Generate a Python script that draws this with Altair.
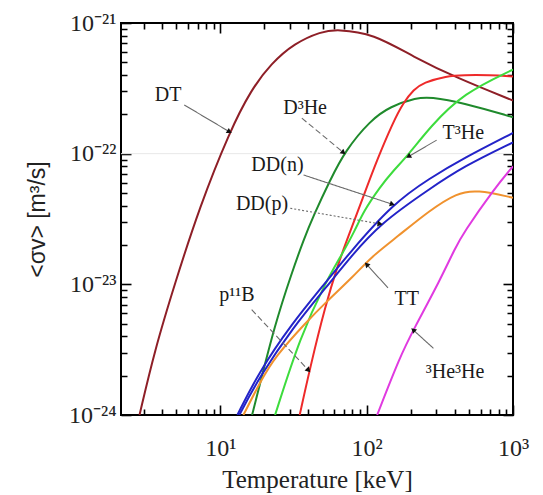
import math
import altair as alt
import pandas as pd

# ---------------- data ----------------
dt_T = [2.81, 3.56, 4.88, 7.22, 11.6, 16.3, 22.3, 32.1, 48.9, 63, 111, 209, 413, 1000]
dt_sv = [1.0e-24, 3.1e-24, 1.0e-23, 3.9e-23, 1.48e-22, 3.1e-22, 4.9e-22, 7.0e-22, 8.6e-22, 8.95e-22, 8.3e-22, 5.5e-22, 3.8e-22, 2.55e-22]

d3he_T = [16.5, 17.8, 23.7, 30.8, 37.1, 43.4, 56.4, 71.3, 106, 145, 220, 271, 457, 1000]
d3he_sv = [1.0e-24, 1.39e-24, 5.0e-24, 1.22e-23, 2.19e-23, 3.36e-23, 6.3e-23, 1.05e-22, 1.8e-22, 2.3e-22, 2.68e-22, 2.72e-22, 2.45e-22, 1.9e-22]

p11b_T = [34.9, 41.1, 52.1, 64.2, 71.3, 95, 117.5, 152, 178, 210, 244, 352, 457, 700, 1000]
p11b_sv = [1.0e-24, 2.3e-24, 6.8e-24, 1.45e-23, 2.0e-23, 4.7e-23, 8.9e-23, 1.75e-22, 2.45e-22, 3.1e-22, 3.5e-22, 3.93e-22, 4.0e-22, 4.0e-22, 3.9e-22]

t3he_T = [23.7, 35.2, 53.5, 65.9, 83.6, 95, 124, 152, 193, 271, 457, 1000]
t3he_sv = [1.0e-24, 4.0e-24, 1.08e-23, 1.6e-23, 2.6e-23, 3.6e-23, 5.6e-23, 7.4e-23, 9.8e-23, 1.6e-22, 2.9e-22, 4.4e-22]

ddn_T = [13.1, 18.2, 30.8, 52.1, 75, 152, 271, 458, 1000]
ddn_sv = [1.0e-24, 2.09e-24, 5.0e-24, 1.02e-23, 1.7e-23, 4.17e-23, 6.5e-23, 9.2e-23, 1.44e-22]

ddp_T = [13.5, 18.5, 31.5, 53, 77, 124, 271, 458, 1000]
ddp_sv = [1.0e-24, 1.95e-24, 4.7e-24, 9.5e-24, 1.6e-23, 2.93e-23, 5.4e-23, 7.96e-23, 1.22e-22]

tt_T = [14.4, 18.8, 23.7, 39.1, 52.1, 81.3, 108, 161, 271, 413, 565, 1000]
tt_sv = [1.0e-24, 1.8e-24, 2.8e-24, 5.2e-24, 7.2e-24, 1.15e-23, 1.63e-23, 2.3e-23, 3.7e-23, 5.0e-23, 5.3e-23, 4.6e-23]

he3he3_T = [118, 169, 209, 318, 402, 457, 735, 1000]
he3he3_sv = [1.0e-24, 2.8e-24, 4.5e-24, 1.08e-23, 1.89e-23, 2.46e-23, 5.3e-23, 8.0e-23]

curve_names = ["DT", "D3He", "p11B", "T3He", "DD(n)", "DD(p)", "TT", "3He3He"]
curve_T = [dt_T, d3he_T, p11b_T, t3he_T, ddn_T, ddp_T, tt_T, he3he3_T]
curve_sv = [dt_sv, d3he_sv, p11b_sv, t3he_sv, ddn_sv, ddp_sv, tt_sv, he3he3_sv]
curve_colors = ["#8e1f27", "#1f8a2c", "#ee2a2a", "#3ddc3d", "#2323c8", "#2323c8", "#f0922e", "#e03ae0"]

# annotation labels
label_text = ["DT", "D³He", "T³He", "DD(n)", "DD(p)", "p¹¹B", "TT", "³He³He"]
label_T = [4.4, 38, 458, 24.6, 19.3, 13.0, 188, 402]
label_sv = [2.81e-22, 2.22e-22, 1.43e-22, 8.2e-23, 4.1e-23, 8.3e-24, 7.7e-24, 2.15e-24]

# annotation arrows (start -> end)
arrow_T1 = [5.68, 36.1, 301, 37.1, 30.1, 16.4, 140, 286]
arrow_sv1 = [2.36e-22, 1.87e-22, 1.27e-22, 6.87e-23, 3.82e-23, 6.4e-24, 9.4e-24, 3.24e-24]
arrow_T2 = [11.57, 69.5, 193, 150, 123.6, 40.1, 100, 208]
arrow_sv2 = [1.47e-22, 1.02e-22, 9.5e-23, 4.1e-23, 2.9e-23, 2.2e-24, 1.42e-23, 4.48e-24]
arrow_style = ["solid", "dashed", "solid", "solid", "dotted", "dashed", "solid", "solid"]

# axes
x_domain = [2.1, 1000]
y_domain = [1e-24, 1e-21]
x_tick_values = [10, 100, 1000]
x_tick_labels = ["10¹", "10²", "10³"]
y_tick_values = [1e-24, 1e-23, 1e-22, 1e-21]
y_tick_exps = [-24, -23, -22, -21]
y_tick_labels = ["10⁻²⁴", "10⁻²³", "10⁻²²", "10⁻²¹"]
x_minor = [3, 4, 5, 6, 7, 8, 9, 20, 30, 40, 50, 60, 70, 80, 90, 200, 300, 400, 500, 600, 700, 800, 900]
y_minor = [m * 10.0 ** e for e in (-24, -23, -22) for m in range(2, 10)]

W, H = 392, 392
SERIF = "Liberation Serif"
TL = 10          # tick length (major); axis line is moved inside the frame by this much
MINOR_GAP = 4    # minor ticks: first part of the tick left blank so they are shorter

# ---------------- build tables ----------------
rows = []
for name, Ts, svs in zip(curve_names, curve_T, curve_sv):
    for i, (t, s) in enumerate(zip(Ts, svs)):
        rows.append({"curve": name, "T": t, "sv": s, "i": i})
curves_df = pd.DataFrame(rows)

labels_df = pd.DataFrame({"text": label_text, "T": label_T, "sv": label_sv})

kx = W / (math.log10(x_domain[1]) - math.log10(x_domain[0]))
ky = H / (math.log10(y_domain[1]) - math.log10(y_domain[0]))
angs = []
for t1, s1, t2, s2 in zip(arrow_T1, arrow_sv1, arrow_T2, arrow_sv2):
    dx = (math.log10(t2) - math.log10(t1)) * kx
    dy = -(math.log10(s2) - math.log10(s1)) * ky
    angs.append(math.degrees(math.atan2(dy, dx)) % 360)
arrows_df = pd.DataFrame({"T1": arrow_T1, "sv1": arrow_sv1, "T2": arrow_T2,
                          "sv2": arrow_sv2, "style": arrow_style, "ang": angs})

xs = alt.Scale(type="log", domain=x_domain, nice=False)
ys = alt.Scale(type="log", domain=y_domain, nice=False)
dash_scale = alt.Scale(domain=["solid", "dashed", "dotted"], range=[[1, 0], [6, 3], [2, 2]])

x_all = sorted(x_tick_values + x_minor)
y_all = sorted(y_tick_values + y_minor)

x_expr = " : ".join(f"datum.value == {v} ? '{l}'" for v, l in zip(x_tick_values, x_tick_labels)) + " : ''"
y_is_minor = "abs(log(datum.value)/LN10 - round(log(datum.value)/LN10)) > 0.001"
y_expr = (f"{y_is_minor} ? '' : (" +
          " : ".join(f"round(log(datum.value)/LN10) == {e} ? '{l}'" for e, l in zip(y_tick_exps, y_tick_labels))
          + " : '')")
x_is_minor = "indexof([" + ",".join(str(v) for v in x_tick_values) + "], datum.value) < 0"


def make_axes(conditional):
    if conditional:
        xdash = {"condition": {"test": x_is_minor, "value": [0, MINOR_GAP, TL]}, "value": [TL, 0]}
        ydash = {"condition": {"test": y_is_minor, "value": [0, MINOR_GAP, TL]}, "value": [TL, 0]}
        tick_kw_x = dict(tickDash=xdash)
        tick_kw_y = dict(tickDash=ydash)
    else:
        tick_kw_x, tick_kw_y = {}, {}
    common = dict(ticks=True, tickSize=TL, tickWidth=1.6, tickColor="#000", offset=-TL,
                  domain=False, grid=False, labelFlush=False, labelOverlap=False, labelBound=False)
    bottom = alt.Axis(orient="bottom", values=x_all, labelExpr=x_expr, title="Temperature [keV]",
                      labelFont=SERIF, labelFontSize=24, labelColor="#222", labelBaseline="alphabetic",
                      labelPadding=40,
                      titleFont=SERIF, titleFontSize=25, titleFontWeight="normal", titleColor="#222",
                      titleY=64 + TL, titleBaseline="middle", **common, **tick_kw_x)
    left = alt.Axis(orient="left", values=y_all, labelExpr=y_expr, title="<σv> [m³/s]",
                    labelFont=SERIF, labelFontSize=24, labelColor="#222", labelBaseline="middle",
                    labelPadding=5,
                    titleFont="Liberation Sans", titleFontSize=23, titleFontWeight="normal", titleColor="#222",
                    titleX=-84 - TL, titleY=196, titleAngle=270, titleAlign="center", titleBaseline="middle",
                    **common, **tick_kw_y)
    top = alt.Axis(orient="top", values=x_all, labels=False, title=None, **common, **tick_kw_x)
    right = alt.Axis(orient="right", values=y_all, labels=False, title=None, **common, **tick_kw_y)
    return bottom, left, top, right


def build(conditional):
    bottom, left, top, right = make_axes(conditional)

    def X(field, axis=None):
        return alt.X(field, scale=xs, axis=axis)

    def Y(field, axis=None):
        return alt.Y(field, scale=ys, axis=axis)

    grid22 = alt.Chart(pd.DataFrame({"g": [1e-22]})).mark_rule(color="#e8e8e8", strokeWidth=1).encode(
        y=Y("g:Q"), x=alt.value(0), x2=alt.value(W))

    lines = alt.Chart(curves_df).mark_line(clip=True, strokeWidth=2, interpolate="basis").encode(
        x=X("T:Q", bottom),
        y=Y("sv:Q", left),
        color=alt.Color("curve:N", scale=alt.Scale(domain=curve_names, range=curve_colors), legend=None),
        detail="curve:N",
        order="i:Q",
    )

    mirror = alt.Chart(curves_df).mark_point(opacity=0).encode(
        x=X("T:Q", top), y=Y("sv:Q", right))

    arrow_lines = alt.Chart(arrows_df).mark_rule(color="#6a6a6a", strokeWidth=1.1).encode(
        x=X("T1:Q"), y=Y("sv1:Q"),
        x2="T2:Q", y2="sv2:Q",
        strokeDash=alt.StrokeDash("style:N", scale=dash_scale, legend=None),
    )
    arrow_heads = alt.Chart(arrows_df).mark_point(shape="triangle-right", filled=True, color="#111",
                                                  size=35, opacity=1).encode(
        x=X("T2:Q"), y=Y("sv2:Q"),
        angle=alt.Angle("ang:Q", scale=None),
    )

    texts = alt.Chart(labels_df).mark_text(font=SERIF, fontSize=20, color="#1a1a1a",
                                           align="center", baseline="middle").encode(
        x=X("T:Q"), y=Y("sv:Q"), text="text:N")

    return alt.layer(grid22, lines, arrow_lines, arrow_heads, texts, mirror).properties(
        width=W, height=H,
        padding={"left": 121, "top": 23, "right": 30, "bottom": 80},
        autosize=alt.AutoSizeParams(type="none"),
        background="white",
    ).resolve_axis(x="independent", y="independent").configure_view(stroke="#000", strokeWidth=2)


try:
    chart = build(True)
    chart.to_dict()
except Exception:
    chart = build(False)

chart.save("out.html", embed_options={"renderer": "svg", "actions": False})
